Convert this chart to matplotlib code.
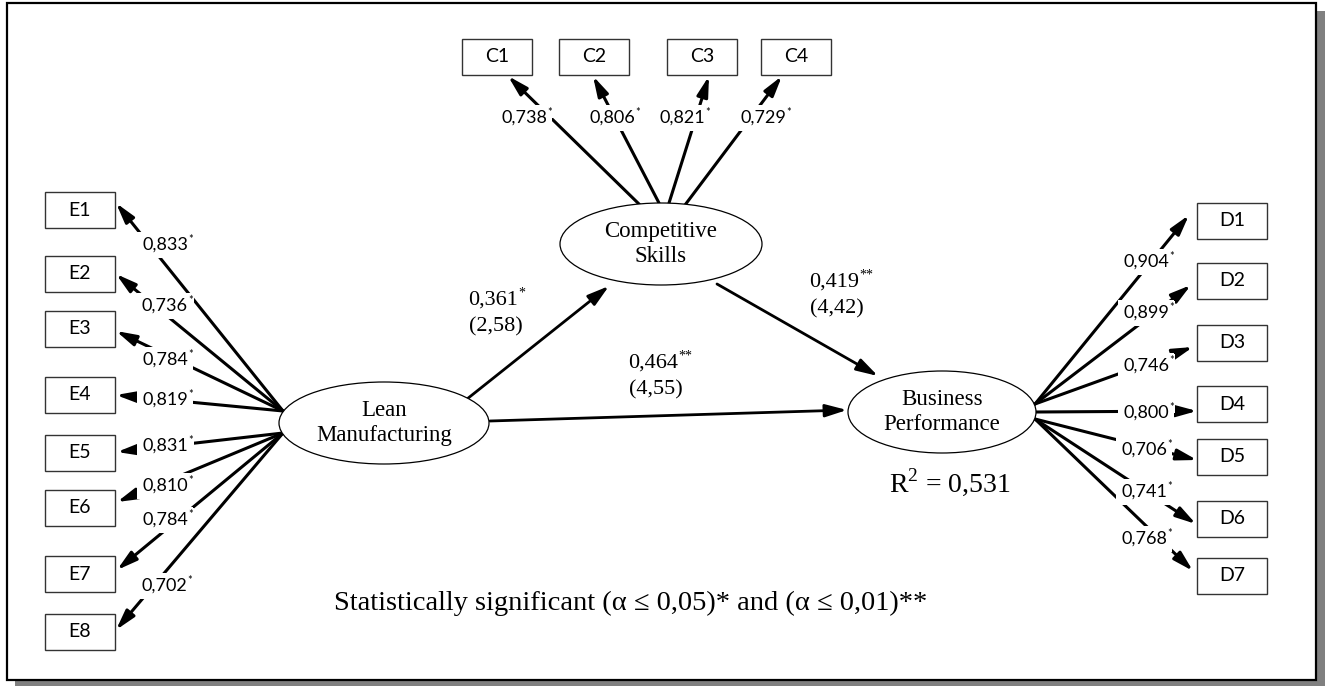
import matplotlib
matplotlib.use('Agg')
import matplotlib.pyplot as plt
from matplotlib.patches import Rectangle, Ellipse

plt.rcParams['mathtext.fontset'] = 'custom'
plt.rcParams['mathtext.rm'] = 'Liberation Serif'

SERIF = ['Liberation Serif', 'DejaVu Serif']
SANS = ['Lato', 'DejaVu Sans']

# ---- data ----
e_labels = ['E1', 'E2', 'E3', 'E4', 'E5', 'E6', 'E7', 'E8']
e_loadings = [0.833, 0.736, 0.784, 0.819, 0.831, 0.810, 0.784, 0.702]
c_labels = ['C1', 'C2', 'C3', 'C4']
c_loadings = [0.738, 0.806, 0.821, 0.729]
d_labels = ['D1', 'D2', 'D3', 'D4', 'D5', 'D6', 'D7']
d_loadings = [0.904, 0.899, 0.746, 0.800, 0.706, 0.741, 0.768]
loading_sig = '*'

latent_names = ['Lean\nManufacturing', 'Competitive\nSkills', 'Business\nPerformance']
path_from = [0, 1, 0]
path_to = [1, 2, 2]
path_coef = [0.361, 0.419, 0.464]
path_t = [2.58, 4.42, 4.55]
path_sig = ['*', '**', '**']
r_squared = 0.531
note = 'Statistically significant (\u03b1 \u2264 0,05)* and (\u03b1 \u2264 0,01)**'

# ---- layout (pixel coordinates) ----
latent_xy = [(384, 423), (661, 244), (942, 412)]
latent_wh = [(210, 82), (202, 82), (188, 82)]
box_w, box_h = 70, 36

e_box_y = [210, 273.5, 328.5, 394.5, 452.5, 507.5, 574, 631.5]
e_box_x = 80
e_tip = [(116, 203), (116, 274), (116, 331), (116, 395), (117, 452), (117, 502), (117, 570), (116, 630)]
e_start = [(283, 411)] * 4 + [(283, 433)] * 4
e_lab = [(165, 245), (165, 306), (165, 360), (165, 400), (165, 446), (165, 486), (165, 520), (164, 586)]

c_box_x = [497, 594, 702, 796]
c_box_y = 56.5
c_tip = [(508, 76), (593, 76), (709, 76), (782, 76)]
c_start = [(640, 205), (659, 203), (669, 203), (685, 205)]
c_lab = [(524, 118), (612, 118), (682, 118), (763, 118)]

d_box_x = 1232
d_box_y = [220.5, 281, 343, 404, 457, 518.5, 575.5]
d_tip = [(1189, 215), (1191, 285), (1193, 347), (1197, 411), (1197, 460), (1196, 524), (1193, 571)]
d_start = [(1035, 404)] * 3 + [(1036, 412)] + [(1035, 419)] * 3
d_lab = [(1146, 262), (1146, 313), (1146, 366), (1146, 413), (1144, 450), (1144, 492), (1144, 539)]

path_start = [(462, 403), (717, 284), (490, 421)]
path_tip = [(609, 286), (878, 376), (847, 410)]
path_lab = [(493, 300), (834, 282), (653, 363)]


def fmt(v):
    return f'{v:.3f}'.replace('.', ',')


fig = plt.figure(figsize=(13.25, 6.86), dpi=100)
ax = fig.add_axes([0, 0, 1, 1])
ax.set_xlim(0, 1325)
ax.set_ylim(686, 0)
ax.axis('off')

# frame with shadow
ax.add_patch(Rectangle((15, 11), 1310, 680, fc='#808080', ec='none', zorder=0))
ax.add_patch(Rectangle((7, 3), 1309, 677, fc='white', ec='black', lw=1.6, zorder=0.5))


def arrow(start, tip, lw=2.2, hl=1.2, hw=0.33):
    ax.annotate('', xy=tip, xytext=start,
                arrowprops=dict(arrowstyle=f'-|>,head_length={hl},head_width={hw}',
                                lw=lw, color='black', shrinkA=0, shrinkB=0),
                zorder=2)


def starred(xy, txt, star, family, size, star_size, pad=0.3):
    bb = dict(boxstyle=f'square,pad={pad}', fc='white', ec='none')
    t = ax.text(xy[0], xy[1], txt, ha='center', va='center', family=family,
                fontsize=size, bbox=bb, zorder=5)
    ax.annotate(star, xy=(1, 1), xycoords=t, xytext=(0.4, -1.5), textcoords='offset points',
                ha='left', va='center', family=family, fontsize=star_size, zorder=5.5,
                bbox=dict(boxstyle='square,pad=0.05', fc='white', ec='none'))
    return t


def box(cx, cy, label):
    ax.add_patch(Rectangle((cx - box_w / 2, cy - box_h / 2), box_w, box_h,
                           fc='white', ec='#333333', lw=1.0, zorder=3))
    ax.text(cx, cy, label, ha='center', va='center', family=SANS, fontsize=14, zorder=4)


# indicators
for i, lab in enumerate(e_labels):
    arrow(e_start[i], e_tip[i])
    box(e_box_x, e_box_y[i], lab)
    starred(e_lab[i], fmt(e_loadings[i]), loading_sig, SANS, 13, 8)

for i, lab in enumerate(c_labels):
    arrow(c_start[i], c_tip[i])
    box(c_box_x[i], c_box_y, lab)
    starred(c_lab[i], fmt(c_loadings[i]), loading_sig, SANS, 13, 8)

for i, lab in enumerate(d_labels):
    arrow(d_start[i], d_tip[i])
    box(d_box_x, d_box_y[i], lab)
    starred(d_lab[i], fmt(d_loadings[i]), loading_sig, SANS, 13, 8)

# latent variables
for (cx, cy), (w, h), name in zip(latent_xy, latent_wh, latent_names):
    ax.add_patch(Ellipse((cx, cy), w, h, fc='white', ec='black', lw=0.9, zorder=3))
    ax.text(cx, cy, name, ha='center', va='center', family=SERIF, fontsize=16.5,
            linespacing=1.3, zorder=4)

# structural paths
for i in range(len(path_coef)):
    arrow(path_start[i], path_tip[i], lw=2.0, hl=1.3, hw=0.38)
    x, y = path_lab[i]
    starred((x, y), fmt(path_coef[i]), path_sig[i], SERIF, 16, 10, pad=0.1)
    ax.text(x + 3, y + 27, '(' + f'{path_t[i]:.2f}'.replace('.', ',') + ')', ha='center',
            va='center', family=SERIF, fontsize=16, zorder=5)

ax.text(950, 482, 'R$^{2}$ = ' + fmt(r_squared), ha='center', va='center',
        family=SERIF, fontsize=20, zorder=5)
ax.text(631, 603, note, ha='center', va='center', family=SERIF, fontsize=20.5, zorder=5)

fig.savefig('out.png', dpi=100)
